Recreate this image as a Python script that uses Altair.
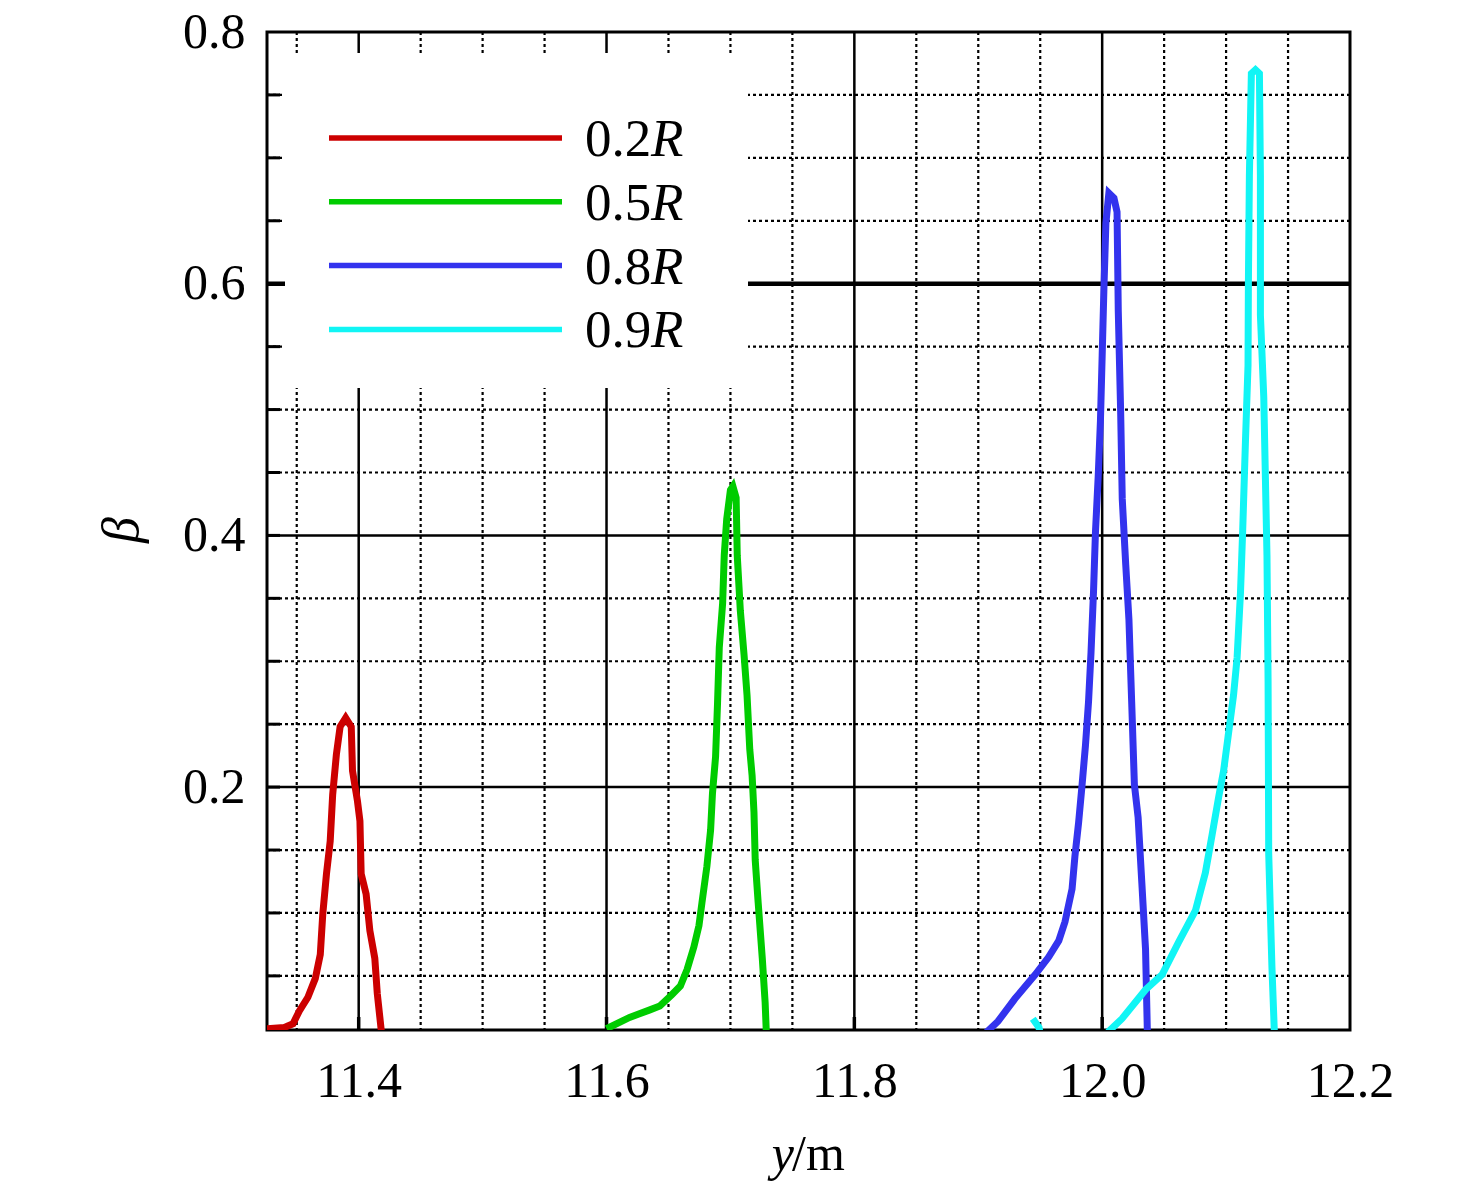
import altair as alt
import pandas as pd

# ---------------- data ----------------
series_names = ["0.2R", "0.5R", "0.8R", "0.9R"]
series_colors = ["#cc0000", "#00cc00", "#3333ee", "#11f5f5"]

red_x = [11.326, 11.340, 11.347, 11.352, 11.359, 11.365, 11.369, 11.371, 11.374, 11.377,
         11.379, 11.382, 11.385, 11.3895, 11.394, 11.395, 11.399, 11.401, 11.402, 11.406,
         11.409, 11.413, 11.415, 11.4185]
red_b = [0.008, 0.009, 0.012, 0.022, 0.033, 0.048, 0.067, 0.099, 0.131, 0.157,
         0.194, 0.226, 0.248, 0.255, 0.248, 0.213, 0.189, 0.173, 0.131, 0.115,
         0.086, 0.064, 0.036, 0.004]

green_x = [11.600, 11.6186, 11.635, 11.643, 11.6527, 11.6596, 11.665, 11.6705, 11.6746, 11.677,
           11.681, 11.684, 11.6855, 11.688, 11.6896, 11.691, 11.6937, 11.695, 11.697, 11.700,
           11.702, 11.7046, 11.7055, 11.708, 11.711, 11.7134, 11.7156, 11.7175, 11.719, 11.720,
           11.7224, 11.7257, 11.728, 11.729]
green_b = [0.008, 0.017, 0.023, 0.026, 0.035, 0.042, 0.055, 0.073, 0.090, 0.108,
           0.137, 0.166, 0.195, 0.224, 0.267, 0.311, 0.346, 0.384, 0.413, 0.436,
           0.439, 0.430, 0.384, 0.340, 0.305, 0.273, 0.230, 0.209, 0.180, 0.142,
           0.108, 0.064, 0.029, 0.004]

blue_x = [11.9054, 11.916, 11.9297, 11.946, 11.9568, 11.965, 11.970, 11.9757, 11.978, 11.981,
          11.9838, 11.9865, 11.989, 11.991, 11.993, 11.9946, 11.9968, 11.9986, 12.000, 12.0014,
          12.003, 12.0054, 12.0095, 12.012, 12.013, 12.0149, 12.0162, 12.019, 12.0216, 12.0238,
          12.026, 12.029, 12.032, 12.035, 12.0365]
blue_b = [0.004, 0.014, 0.032, 0.051, 0.065, 0.078, 0.093, 0.119, 0.145, 0.172,
          0.202, 0.233, 0.268, 0.307, 0.355, 0.403, 0.447, 0.491, 0.543, 0.596,
          0.648, 0.672, 0.668, 0.657, 0.578, 0.499, 0.429, 0.377, 0.333, 0.268,
          0.202, 0.176, 0.124, 0.071, 0.004]

cyan_x = [11.944, 11.949, 11.953, 12.000, 12.0054, 12.016, 12.035, 12.0484, 12.0618, 12.0753,
          12.0833, 12.0887, 12.094, 12.098, 12.102, 12.106, 12.1089, 12.1116, 12.1134, 12.1156,
          12.1177, 12.118, 12.1188, 12.1204, 12.1237, 12.1269, 12.1277, 12.1277, 12.1304, 12.133,
          12.1339, 12.1344, 12.137, 12.139]
cyan_b = [0.016, 0.009, -0.01, -0.01, 0.006, 0.016, 0.039, 0.051, 0.077, 0.102,
          0.132, 0.162, 0.192, 0.213, 0.243, 0.273, 0.303, 0.354, 0.404, 0.474,
          0.535, 0.600, 0.686, 0.767, 0.770, 0.767, 0.686, 0.575, 0.510, 0.384,
          0.283, 0.147, 0.057, 0.004]

x_ticks = [11.4, 11.6, 11.8, 12.0, 12.2]
y_ticks = [0.2, 0.4, 0.6, 0.8]
x_major_grid = [11.4, 11.6, 11.8, 12.0]
x_minor_grid = [11.35, 11.45, 11.5, 11.55, 11.65, 11.7, 11.75, 11.85, 11.9, 11.95,
                12.05, 12.1, 12.15]
y_major_grid = [0.2, 0.4]
y_thick_grid = [0.6]
y_minor_grid = [0.05, 0.1, 0.15, 0.25, 0.3, 0.35, 0.45, 0.5, 0.55, 0.65, 0.7, 0.75]

X_DOMAIN = [11.326, 12.2]
Y_DOMAIN = [0.007, 0.8]
W, H = 1083, 998
FONT = "Liberation Serif"

# ---------------- build tables ----------------
rows = []
for name, xs_, bs_ in zip(series_names, [red_x, green_x, blue_x, cyan_x],
                          [red_b, green_b, blue_b, cyan_b]):
    for i, (xv, bv) in enumerate(zip(xs_, bs_)):
        rows.append({"x": xv, "beta": bv, "series": name, "order": i})
df = pd.DataFrame(rows)

xs = alt.Scale(domain=X_DOMAIN, nice=False, zero=False)
ys = alt.Scale(domain=Y_DOMAIN, nice=False, zero=False)

x_axis = alt.Axis(values=x_ticks, format=".1f", title=None, grid=False, domain=False,
                  ticks=False, labelFont=FONT, labelFontSize=50, labelColor="black",
                  labelPadding=26, labelFlush=False, labelOverlap=False)
y_axis = alt.Axis(values=y_ticks, format=".1f", title=None, grid=False, domain=False,
                  ticks=False, labelFont=FONT, labelFontSize=50, labelColor="black",
                  labelPadding=22, labelFlush=False, labelOverlap=False)

def vgrid(vals, width, dash=None):
    m = alt.Chart(pd.DataFrame({"v": vals})).mark_rule(
        color="black", strokeWidth=width, strokeDash=dash if dash else [1, 0])
    return m.encode(x=alt.X("v:Q", scale=xs, axis=x_axis))

def hgrid(vals, width, dash=None):
    m = alt.Chart(pd.DataFrame({"v": vals})).mark_rule(
        color="black", strokeWidth=width, strokeDash=dash if dash else [1, 0])
    return m.encode(y=alt.Y("v:Q", scale=ys, axis=y_axis))

DOT = [3, 3]
grid_layers = [
    vgrid(x_minor_grid, 2.2, DOT),
    hgrid(y_minor_grid, 2.2, DOT),
    vgrid(x_major_grid, 2.5),
    hgrid(y_major_grid, 2.5),
    hgrid(y_thick_grid, 4.5),
]

# inward ticks on the left and bottom frame edges
left_ticks = alt.Chart(pd.DataFrame({"v": y_minor_grid + y_major_grid + y_thick_grid})).mark_rule(
    color="black", strokeWidth=3).encode(
    y=alt.Y("v:Q", scale=ys, axis=y_axis), x=alt.value(0), x2=alt.value(13))
bottom_ticks = alt.Chart(pd.DataFrame({"v": x_major_grid})).mark_rule(
    color="black", strokeWidth=3.5).encode(
    x=alt.X("v:Q", scale=xs, axis=x_axis), y=alt.value(H), y2=alt.value(H - 13))

# legend box
legend_box = alt.Chart(pd.DataFrame({"a": [0]})).mark_rect(fill="white").encode(
    x=alt.value(18), x2=alt.value(481), y=alt.value(21), y2=alt.value(356))

legend_layers = []
for i, (name, col) in enumerate(zip(series_names, series_colors)):
    ly = 106 + 63.8 * i
    one = pd.DataFrame({"a": [0]})
    legend_layers.append(
        alt.Chart(one).mark_rule(color=col, strokeWidth=5.5).encode(
            x=alt.value(62), x2=alt.value(295), y=alt.value(ly)))
    legend_layers.append(
        alt.Chart(one).mark_text(text=name[:-1], font=FONT, fontSize=53, align="left",
                                 baseline="alphabetic", color="black").encode(
            x=alt.value(318), y=alt.value(ly + 18)))
    legend_layers.append(
        alt.Chart(one).mark_text(text="R", font=FONT, fontSize=53, fontStyle="italic",
                                 align="left", baseline="alphabetic", color="black").encode(
            x=alt.value(384), y=alt.value(ly + 18)))

# data lines
lines = alt.Chart(df).mark_line(strokeWidth=7, clip=True, strokeJoin="miter").encode(
    x=alt.X("x:Q", scale=xs, axis=x_axis),
    y=alt.Y("beta:Q", scale=ys, axis=y_axis),
    color=alt.Color("series:N", scale=alt.Scale(domain=series_names, range=series_colors),
                    legend=None),
    order="order:Q",
    detail="series:N",
)

one = pd.DataFrame({"a": [0]})
title_y = alt.Chart(one).mark_text(text="y", font=FONT, fontSize=50, fontStyle="italic",
                                   align="right", baseline="alphabetic", color="black").encode(
    x=alt.value(527), y=alt.value(1138))
title_m = alt.Chart(one).mark_text(text="/m", font=FONT, fontSize=50, align="left",
                                   baseline="alphabetic", color="black").encode(
    x=alt.value(525), y=alt.value(1138))
title_beta = alt.Chart(one).mark_text(text="β", font=FONT, fontSize=52, fontStyle="italic",
                                      align="center", baseline="middle", angle=270,
                                      color="black").encode(
    x=alt.value(-145), y=alt.value(498))

chart = alt.layer(
    *grid_layers, left_ticks, bottom_ticks, legend_box, *legend_layers, lines,
    title_y, title_m, title_beta
).properties(
    width=W, height=H,
    autosize=alt.AutoSizeParams(type="none"),
    padding={"left": 259, "top": 24, "right": 118, "bottom": 160},
    background="white",
).configure_view(stroke="black", strokeWidth=3)

chart.save("out.html", embed_options={"renderer": "svg", "actions": False})
